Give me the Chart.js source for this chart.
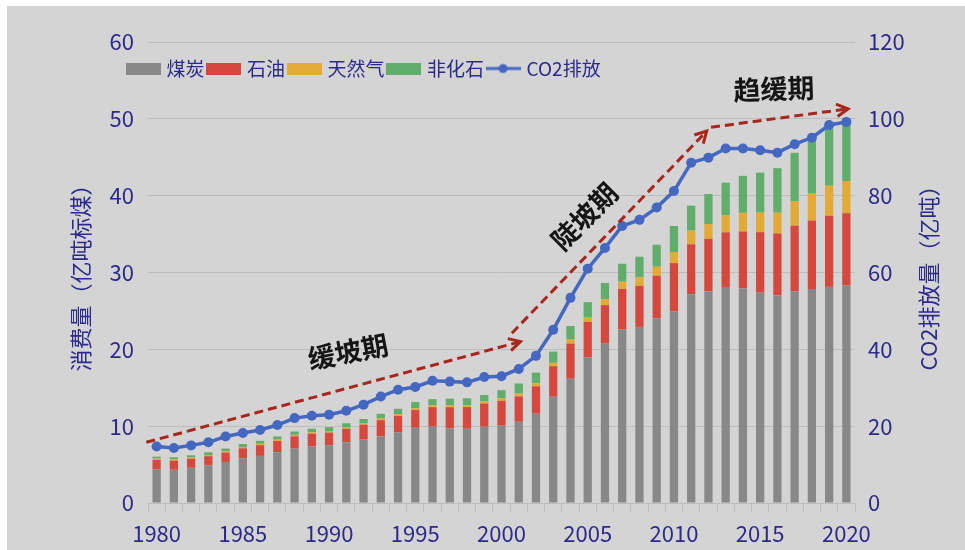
<!DOCTYPE html>
<html>
<head>
<meta charset="utf-8">
<script src="https://cdn.jsdelivr.net/npm/chart.js@4.4.1/dist/chart.umd.min.js"></script>
<style>
  html, body { margin: 0; padding: 0; background: #fff; }
  #wrap { position: absolute; left: 7px; top: 6px; width: 958px; height: 544px; background: #d4d4d4; }
</style>
</head>
<body>
<div id="wrap"><canvas id="chart" width="958" height="544"></canvas></div>
<script>
const years = ['1980','1981','1982','1983','1984','1985','1986','1987','1988','1989',
               '1990','1991','1992','1993','1994','1995','1996','1997','1998','1999',
               '2000','2001','2002','2003','2004','2005','2006','2007','2008','2009',
               '2010','2011','2012','2013','2014','2015','2016','2017','2018','2019','2020'];
const xTickYears = ['1980','1985','1990','1995','2000','2005','2010','2015','2020'];

// 亿吨标煤
const coal = [4.35,4.32,4.58,4.90,5.34,5.81,6.13,6.60,7.09,7.36,
              7.52,7.90,8.27,8.67,9.20,9.79,9.94,9.70,9.66,9.93,
              10.07,10.57,11.62,13.84,16.17,18.93,20.74,22.58,22.92,24.06,
              24.95,27.17,27.54,28.10,27.93,27.38,27.02,27.53,27.84,28.13,28.30];
const oil = [1.25,1.19,1.17,1.19,1.23,1.31,1.39,1.47,1.58,1.66,
             1.64,1.77,1.91,2.11,2.13,2.30,2.53,2.77,2.83,3.02,
             3.23,3.30,3.56,3.96,4.58,4.65,5.01,5.29,5.35,5.51,
             6.27,6.50,6.84,7.13,7.41,7.87,8.06,8.57,8.92,9.26,9.42];
const gas = [0.19,0.17,0.16,0.16,0.17,0.17,0.19,0.18,0.20,0.19,
             0.21,0.21,0.21,0.22,0.23,0.24,0.24,0.24,0.25,0.28,
             0.32,0.37,0.39,0.45,0.53,0.63,0.77,0.93,1.09,1.18,
             1.44,1.78,1.93,2.21,2.43,2.54,2.70,3.19,3.59,3.90,4.19];
const nonFossil = [0.24,0.27,0.30,0.35,0.35,0.38,0.38,0.41,0.44,0.47,
                   0.50,0.50,0.54,0.60,0.70,0.80,0.81,0.87,0.89,0.83,
                   1.07,1.31,1.39,1.46,1.75,1.93,2.12,2.34,2.69,2.86,
                   3.39,3.25,3.90,4.25,4.81,5.20,5.80,6.29,6.84,7.46,7.92];
// 亿吨
const co2 = [14.7,14.3,15.0,15.8,17.3,18.2,19.0,20.3,22.1,22.7,
             23.0,24.0,25.6,27.7,29.5,30.2,31.8,31.6,31.4,32.8,
             33.0,34.9,38.3,45.1,53.4,61.0,66.4,72.1,73.7,76.9,
             81.2,88.6,89.9,92.3,92.3,91.8,91.2,93.4,95.1,98.4,99.2];

// phase arrows and labels, in (category index, left-axis value)
const phaseArrows = [
  { from: [-0.6, 7.9], to: [21.1, 21.0] },
  { from: [20.6, 22.1], to: [31.9, 48.4] },
  { from: [32.15, 48.9], to: [40.1, 51.3] }
];
const phaseLabels = [
  { text: '缓坡期', at: [11.1, 19.7], angle: -11 },
  { text: '陡坡期', at: [24.8, 37.3], angle: -45 },
  { text: '趋缓期', at: [35.8, 53.9], angle: -2 }
];

const NAVY = '#2a2a8c';
const FONT = '"Noto Sans CJK SC", "Noto Sans", sans-serif';
Chart.defaults.font.family = FONT;

function swatch(color, isLine) {
  const c = document.createElement('canvas');
  c.width = 35; c.height = 12;
  const g = c.getContext('2d');
  if (isLine) {
    g.strokeStyle = color; g.lineWidth = 3;
    g.beginPath(); g.moveTo(0, 6); g.lineTo(35, 6); g.stroke();
    g.fillStyle = color;
    g.beginPath(); g.arc(17.5, 6, 4.5, 0, Math.PI * 2); g.fill();
  } else {
    g.fillStyle = color; g.fillRect(0, 0, 35, 12);
  }
  return c;
}

function drawArrow(ctx, x1, y1, x2, y2) {
  ctx.beginPath();
  ctx.setLineDash([9, 5]);
  ctx.moveTo(x1, y1); ctx.lineTo(x2, y2);
  ctx.stroke();
  const a = Math.atan2(y2 - y1, x2 - x1), h = 13;
  ctx.setLineDash([]);
  ctx.beginPath();
  ctx.moveTo(x2 - h * Math.cos(a - 0.5), y2 - h * Math.sin(a - 0.5));
  ctx.lineTo(x2, y2);
  ctx.lineTo(x2 - h * Math.cos(a + 0.5), y2 - h * Math.sin(a + 0.5));
  ctx.stroke();
}

const phasePlugin = {
  id: 'phases',
  afterLayout(chart) {
    // legend sits inside the plot, under the 60 grid line
    const lg = chart.legend;
    const dx = 117 - lg.left;
    const dy = (chart.chartArea.top + 12) - lg.top;
    lg.left += dx; lg.right += dx; lg.top += dy; lg.bottom += dy;
  },
  afterDraw(chart) {
    const { ctx, scales: { x, y, y2 } } = chart;
    ctx.save();
    ctx.strokeStyle = '#a8261c';
    ctx.lineWidth = 3;
    phaseArrows.forEach(a => {
      drawArrow(ctx, x.getPixelForValue(a.from[0]), y.getPixelForValue(a.from[1]),
                x.getPixelForValue(a.to[0]), y.getPixelForValue(a.to[1]));
    });
    ctx.fillStyle = '#151515';
    ctx.font = 'bold 27px ' + FONT;
    ctx.textAlign = 'center';
    ctx.textBaseline = 'middle';
    phaseLabels.forEach(l => {
      ctx.save();
      ctx.translate(x.getPixelForValue(l.at[0]), y.getPixelForValue(l.at[1]));
      ctx.rotate(l.angle * Math.PI / 180);
      ctx.fillText(l.text, 0, 0);
      ctx.restore();
    });
    // right axis title, reading upwards
    ctx.save();
    ctx.translate(y2.right - 36, (y2.top + y2.bottom) / 2);
    ctx.rotate(-Math.PI / 2);
    ctx.fillStyle = NAVY;
    ctx.font = '22px ' + FONT;
    ctx.fillText('CO2排放量（亿吨）', 0, 0);
    ctx.restore();
    ctx.restore();
  }
};

new Chart(document.getElementById('chart'), {
  type: 'bar',
  data: {
    labels: years,
    datasets: [
      { label: '煤炭', data: coal, backgroundColor: '#888888', legendColor: '#888888', order: 1 },
      { label: '石油', data: oil, backgroundColor: '#d6483d', legendColor: '#d6483d', order: 1 },
      { label: '天然气', data: gas, backgroundColor: '#e3aa35', legendColor: '#e3aa35', order: 1 },
      { label: '非化石', data: nonFossil, backgroundColor: '#60ad6c', legendColor: '#60ad6c', order: 1 },
      {
        label: 'CO2排放', type: 'line', data: co2, yAxisID: 'y2', order: 0,
        borderColor: '#4467c2', backgroundColor: '#4467c2', legendColor: '#4467c2',
        borderWidth: 3.5, pointRadius: 5, pointBorderWidth: 0,
        pointBackgroundColor: '#4467c2', tension: 0
      }
    ]
  },
  options: {
    responsive: false,
    animation: false,
    layout: { padding: { top: 2, left: 0, right: 0, bottom: 0 } },
    datasets: { bar: { barPercentage: 0.48, categoryPercentage: 1 } },
    plugins: {
      tooltip: { enabled: false },
      legend: {
        position: 'top',
        align: 'start',
        labels: {
          usePointStyle: true,
          pointStyleWidth: 28,
          boxHeight: 12,
          padding: 5,
          color: NAVY,
          font: { size: 19 },
          sort: (a, b) => a.datasetIndex - b.datasetIndex,
          generateLabels(chart) {
            const items = Chart.defaults.plugins.legend.labels.generateLabels(chart);
            items.forEach(it => {
              const ds = chart.data.datasets[it.datasetIndex];
              it.pointStyle = swatch(ds.legendColor, ds.type === 'line');
            });
            return items;
          }
        }
      }
    },
    scales: {
      x: {
        stacked: true,
        afterFit(s) { s.height = 47; },
        grid: { display: true, drawOnChartArea: false, drawTicks: true, tickLength: 9, color: '#bcbcbc', offset: true },
        border: { display: true, color: '#bcbcbc' },
        ticks: {
          autoSkip: false, maxRotation: 0, padding: 8,
          color: NAVY, font: { size: 22 },
          callback(v) { const l = this.getLabelForValue(v); return xTickYears.includes(l) ? l : ''; }
        }
      },
      y: {
        stacked: true,
        min: 0, max: 60,
        afterFit(s) { s.width = 141; },
        grid: { color: '#bdbdbd', drawTicks: false },
        border: { display: false },
        ticks: { stepSize: 10, padding: 14, color: NAVY, font: { size: 22 } },
        title: { display: true, text: '消费量（亿吨标煤）', color: NAVY, font: { size: 22 }, padding: { top: 60 } }
      },
      y2: {
        position: 'right',
        min: 0, max: 120,
        afterFit(s) { s.width = 110; },
        grid: { display: false, drawTicks: false },
        border: { display: false },
        ticks: { stepSize: 20, padding: 13, color: NAVY, font: { size: 22 } }
      }
    }
  },
  plugins: [phasePlugin]
});
</script>
</body>
</html>
